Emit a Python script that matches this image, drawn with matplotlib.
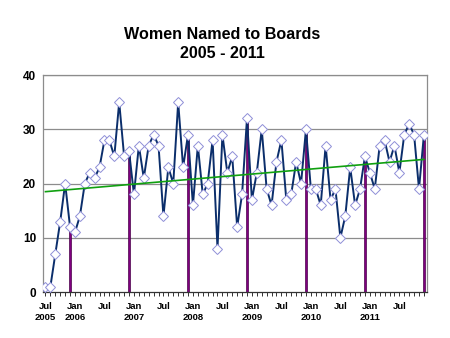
import numpy as np
import matplotlib
matplotlib.use("Agg")
import matplotlib.pyplot as plt

# Monthly count of women named to boards, Jul 2005 .. Dec 2011
values = [1, 1, 7, 13, 20, 12, 11, 14, 20, 22, 21, 23,
          28, 28, 25, 35, 25, 26, 18, 27, 21, 27, 29, 27,
          14, 23, 20, 35, 23, 29, 16, 27, 18, 20, 28, 8,
          29, 22, 25, 12, 18, 32, 17, 22, 30, 19, 16, 24,
          28, 17, 18, 24, 20, 30, 19, 19, 16, 27, 17, 19,
          10, 14, 23, 16, 19, 25, 22, 19, 27, 28, 24, 27,
          22, 29, 31, 29, 19, 29]
# December of each year is highlighted with a bar
december_months = [5, 17, 29, 41, 53, 65, 77]
tick_months = [0, 6, 12, 18, 24, 30, 36, 42, 48, 54, 60, 66, 72]
tick_labels = ["Jul\n2005", "Jan\n2006", "Jul", "Jan\n2007", "Jul", "Jan\n2008",
               "Jul", "Jan\n2009", "Jul", "Jan\n2010", "Jul", "Jan\n2011", "Jul"]
y_ticks = [0, 10, 20, 30, 40]

plt.rcParams['font.family'] = ['Liberation Sans', 'DejaVu Sans']

x = np.arange(len(values))
y = np.array(values, dtype=float)

fig = plt.figure(figsize=(4.5, 3.38), dpi=100)
ax = fig.add_axes([0.0956, 0.136, 0.853, 0.642])

# gridlines
for t in y_ticks[1:]:
    ax.axhline(t, color="#8c8c8c", lw=0.9, zorder=0)

# December bars
dec_vals = [values[m] for m in december_months]
ax.bar(december_months, dec_vals, width=0.5, color="#800080",
       edgecolor="#4a004a", linewidth=0.5, zorder=2)

# monthly series
ax.plot(x, y, color="#0b2e6b", lw=1.4, zorder=3,
        marker="D", markersize=5, markerfacecolor="white",
        markeredgecolor="#8f8fd8", markeredgewidth=0.7)

# linear trend
slope, intercept = np.polyfit(x, y, 1)
ax.plot([x[0], x[-1]], [intercept + slope * x[0], intercept + slope * x[-1]],
        color="#10a010", lw=1.2, zorder=4)

ax.set_xlim(-0.5, 77.6)
ax.set_ylim(0, 40)
ax.set_yticks(y_ticks)
ax.set_yticklabels([str(t) for t in y_ticks], fontsize=8.5, fontweight="bold")
ax.set_xticks(tick_months)
ax.set_xticklabels(tick_labels, fontsize=6.8, fontweight="bold", linespacing=1.25)
ax.set_xticks(np.arange(0, 78), minor=True)
ax.tick_params(axis="x", which="major", length=3, width=0.7, color="#333333", pad=4)
ax.tick_params(axis="x", which="minor", length=3, width=0.7, color="#333333")
ax.tick_params(axis="y", length=0, pad=5)

for side in ["top", "right", "left"]:
    ax.spines[side].set_color("#8c8c8c")
    ax.spines[side].set_linewidth(0.9)
ax.spines["bottom"].set_color("#333333")
ax.spines["bottom"].set_linewidth(0.9)

fig.text(0.494, 0.899, "Women Named to Boards", ha="center", va="center",
         fontsize=11.6, fontweight="bold")
fig.text(0.494, 0.842, "2005 - 2011", ha="center", va="center",
         fontsize=11.6, fontweight="bold")

fig.savefig("out.png", dpi=100)
